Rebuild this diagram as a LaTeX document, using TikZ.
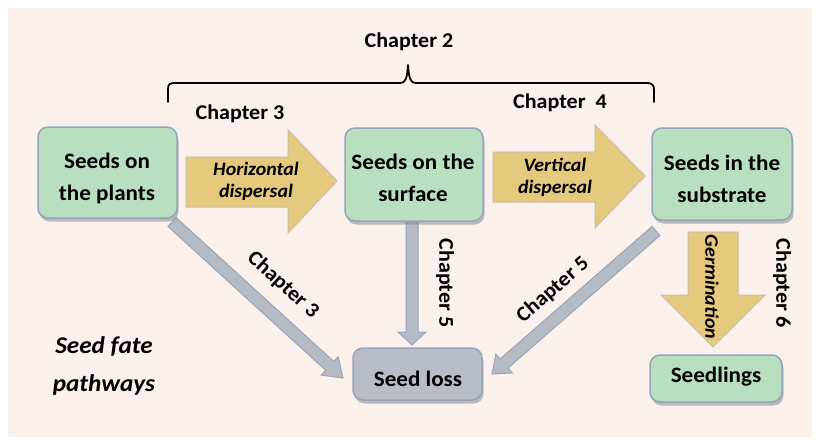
\documentclass[tikz,border=0pt]{standalone}
\usepackage{fontspec}
\setmainfont{Carlito}[FakeStretch=1.05]
\usetikzlibrary{shadows,backgrounds}
\definecolor{bg}{HTML}{FAF1EC}
\definecolor{boxgreen}{HTML}{B9DFC1}
\definecolor{boxedge}{HTML}{95A4BA}
\definecolor{lossfill}{HTML}{B8BCC4}
\definecolor{arrgray}{HTML}{B6BAC2}
\definecolor{arrgrayedge}{HTML}{9AA4B8}
\definecolor{arryellow}{HTML}{E5CA7E}
\definecolor{arryedge}{HTML}{C9BBA6}
\tikzset{
  greenbox/.style={draw=boxedge, line width=1.5pt, fill=boxgreen, rounded corners=10pt,
    drop shadow={shadow xshift=1.5pt, shadow yshift=-3.5pt, fill=black!50}, inner sep=0pt},
  graybox/.style={greenbox, fill=lossfill},
  grayarrow/.style={draw=arrgrayedge, line width=1pt, fill=arrgray, line join=miter},
  yellowarrow/.style={draw=arryedge, line width=1pt, fill=arryellow, line join=miter},
  boxtext/.style={align=center, font=\fontsize{22}{32}\selectfont\bfseries, inner sep=0pt},
  arrtext/.style={align=center, font=\fontsize{19}{22}\selectfont\bfseries\itshape, inner sep=0pt},
  chap/.style={font=\fontsize{21}{25}\selectfont\bfseries, inner sep=0pt},
  bracepath/.style={line width=1.8pt, line cap=round, line join=round},
}
\newcommand{\fatarrow}[7]{%
  \begin{scope}[shift={(#2)}, rotate=#3]
    \draw[#1] (0,-#5) -- ({#4-#7},-#5) -- ({#4-#7},-#6) -- (#4,0) -- ({#4-#7},#6) -- ({#4-#7},#5) -- (0,#5) -- cycle;
  \end{scope}}
\begin{document}
\begin{tikzpicture}[x=1pt,y=-1pt]
\useasboundingbox (0,0) rectangle (819,445);

% boxes
\node[greenbox, minimum width=139pt, minimum height=91pt] (plants) at (107.5,172.5) {};
\node[greenbox, minimum width=138pt, minimum height=93pt] (surface) at (414,174.5) {};
\node[greenbox, minimum width=140pt, minimum height=92pt] (substrate) at (722,174) {};
\node[graybox, minimum width=129pt, minimum height=52pt] (loss) at (417.5,374) {};
\node[greenbox, minimum width=132pt, minimum height=47pt] (seedlings) at (716,378.5) {};

\node[boxtext] (t1) at (107,178.6) {Seeds on\\the plants};
\node[boxtext] (t2) at (413,177.6) {Seeds on the\\surface};
\node[boxtext] (t3) at (722,178.6) {Seeds in the\\substrate};
\node[boxtext] (t4) at (418,378.4) {Seed loss};
\node[boxtext] (t5) at (716,376.6) {Seedlings};

% connectors (behind boxes)
\coordinate (s1) at (172,222);
\coordinate (s2) at (412,215);
\coordinate (s3) at (656,231);
\begin{scope}[on background layer]
\fill[white] (0,0) rectangle (819,445);
\fill[bg] (8,8) rectangle (812,437);
\fatarrow{grayarrow}{s1}{-42.37}{231.5}{6}{12.5}{18}
\fatarrow{grayarrow}{s2}{-90}{130}{6}{14}{13}
\fatarrow{grayarrow}{s3}{-138.91}{217.6}{6}{12.5}{16}
\end{scope}

% yellow arrows
\draw[yellowarrow] (186,157) -- (288,157) -- (288,130) -- (337,181) -- (288,233) -- (288,207) -- (186,207) -- cycle;
\draw[yellowarrow] (493,152) -- (595,152) -- (595,125) -- (645,176) -- (595,228) -- (595,202) -- (493,202) -- cycle;
\draw[yellowarrow] (688,232) -- (738,232) -- (738,295) -- (765,295) -- (713,347) -- (661,295) -- (688,295) -- cycle;

\node[arrtext] (h) at (256,181.3) {Horizontal\\dispersal};
\node[arrtext] (v) at (555,177) {Vertical\\dispersal};
\node[arrtext, rotate=-90] (g) at (712,287) {Germination};

% chapter labels
\node[chap] (c2) at (409,41.6) {Chapter 2};
\node[chap] (c3) at (240,113.6) {Chapter 3};
\node[chap] (c4) at (560,102.6) {Chapter\ \ 4};
\node[chap, rotate=-42.4] (c3d) at (283,285) {Chapter 3};
\node[chap, rotate=-90] (c5v) at (445,283) {Chapter 5};
\node[chap, rotate=41.1] (c5d) at (553,290) {Chapter 5};
\node[chap, rotate=-90] (c6) at (782,283) {Chapter 6};

\node[align=center, font=\fontsize{24}{38}\selectfont\bfseries\itshape, inner sep=0pt] (sfp) at (104,366) {Seed fate\\pathways};

% brace
\draw[bracepath] (168,102) -- (168,89) .. controls (168,84) and (170,83) .. (175,83) -- (400,83) .. controls (405,83) and (407,80) .. (408,65)
  .. controls (409,80) and (411,83) .. (416,83) -- (647,83) .. controls (652,83) and (654,85) .. (654,90) -- (654,102);
\end{tikzpicture}
\end{document}
